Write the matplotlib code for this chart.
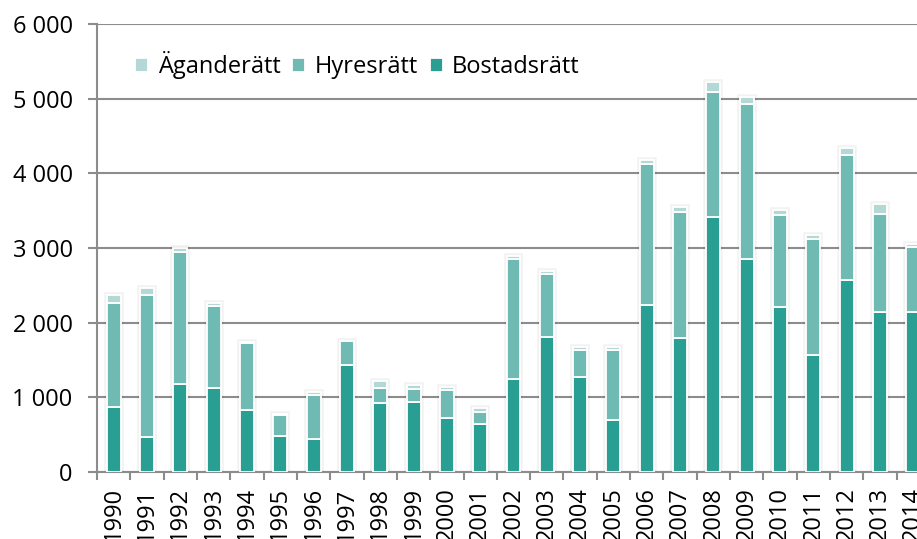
import numpy as np
import matplotlib.pyplot as plt
from matplotlib.ticker import FuncFormatter, FixedLocator

years = [str(y) for y in range(1990, 2015)]
bostadsratt = [870, 475, 1175, 1130, 830, 485, 440, 1435, 930, 935, 725, 640, 1245,
               1810, 1270, 700, 2235, 1800, 3415, 2850, 2210, 1565, 2570, 2145, 2145]
hyresratt = [1400, 1900, 1775, 1095, 900, 275, 595, 315, 200, 170, 375, 165, 1605,
             840, 365, 935, 1890, 1685, 1670, 2075, 1230, 1555, 1675, 1305, 865]
aganderatt = [105, 95, 45, 45, 10, 20, 35, 5, 85, 55, 40, 50, 45,
              45, 35, 35, 55, 70, 140, 100, 75, 55, 100, 145, 45]

c_bost = "#299e92"
c_hyr = "#6fbbb3"
c_ag = "#b4d8d5"
grid_c = "#8c8c8c"
fs = 17

plt.rcParams["font.family"] = ["Open Sans", "DejaVu Sans"]

fig = plt.figure(figsize=(9.17, 5.39), dpi=100)
ax = fig.add_axes([97 / 917, 67 / 539, 833 / 917, 448 / 539])

x = np.arange(len(years))
b = np.array(bostadsratt)
h = np.array(hyresratt)
a = np.array(aganderatt)
w = 0.42

# soft shadow around each stack
ax.bar(x, b + h + a, w, facecolor="none", edgecolor="#000000", alpha=0.05,
       linewidth=4, zorder=2)
ax.bar(x, b, w, color=c_bost, edgecolor="white", linewidth=1.3, zorder=3, label="Bostadsrätt")
ax.bar(x, h, w, bottom=b, color=c_hyr, edgecolor="white", linewidth=1.3, zorder=3, label="Hyresrätt")
ax.bar(x, a, w, bottom=b + h, color=c_ag, edgecolor="white", linewidth=1.3, zorder=3, label="Äganderätt")

ax.set_xlim(-0.5, len(years) - 0.5)
ax.set_ylim(0, 6000)
ax.set_yticks(range(0, 6001, 1000))
ax.yaxis.set_major_formatter(FuncFormatter(lambda v, p: f"{int(v):,}".replace(",", " ")))
ax.set_xticks(x)
ax.set_xticklabels(years, rotation=90)
ax.xaxis.set_minor_locator(FixedLocator(np.arange(-0.5, len(years), 1)))

ax.grid(axis="y", color=grid_c, linewidth=1.5, zorder=0)
ax.set_axisbelow(True)
for s in ["top", "right"]:
    ax.spines[s].set_visible(False)
for s in ["left", "bottom"]:
    ax.spines[s].set_color(grid_c)
    ax.spines[s].set_linewidth(1.5)

ax.tick_params(axis="y", length=6.5, width=1.5, color=grid_c, pad=11, labelsize=fs)
ax.tick_params(axis="x", which="major", length=0, pad=11, labelsize=fs)
ax.tick_params(axis="x", which="minor", length=6, width=1.5, color=grid_c)

handles, labels = ax.get_legend_handles_labels()
ax.legend(handles[::-1], labels[::-1], loc="center left", bbox_to_anchor=(0.046, 0.908),
          ncol=3, frameon=False, fontsize=fs, handlelength=0.55, handleheight=0.55,
          handletextpad=0.4, columnspacing=0.5, borderpad=0, borderaxespad=0)

fig.savefig("out.png", dpi=100)
